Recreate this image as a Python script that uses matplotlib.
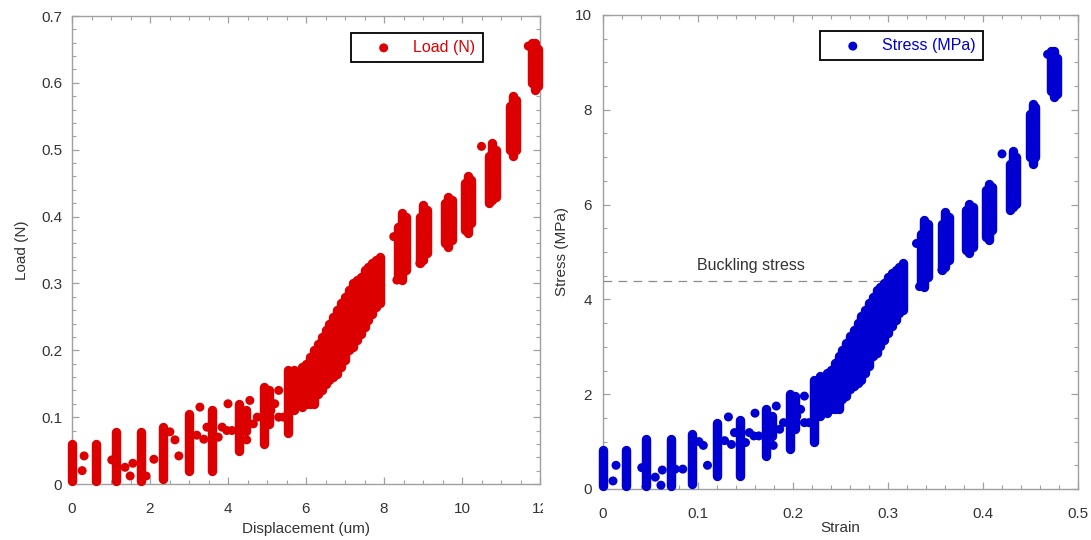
import matplotlib
matplotlib.use("Agg")
import matplotlib.pyplot as plt
from matplotlib.ticker import MultipleLocator
from matplotlib.transforms import Bbox

plt.rcParams['font.family'] = ['Liberation Sans', 'DejaVu Sans']

# ---------------- Left panel: Load vs Displacement ----------------
# vertical runs of overlapping points (x, lowest y, highest y)
load_streak_x = [0.00, 0.61, 1.13, 1.78, 2.34, 3.00, 3.60, 4.28, 4.45, 4.93, 5.05, 5.55, 5.70,
                 5.90, 6.00, 6.10, 6.20, 6.30, 6.40, 6.50, 6.60, 6.70, 6.80, 6.90, 7.00, 7.10,
                 7.20, 7.30, 7.40, 7.50, 7.60, 7.70, 7.80, 7.90,
                 8.36, 8.46, 8.56, 8.92, 9.00, 9.10, 9.56, 9.64, 9.74, 10.08, 10.16, 10.24,
                 10.70, 10.78, 10.86, 11.24, 11.31, 11.38, 11.80, 11.87, 11.94]
load_streak_lo = [0.005, 0.005, 0.005, 0.005, 0.008, 0.020, 0.020, 0.050, 0.080, 0.060, 0.090, 0.076, 0.110,
                  0.115, 0.120, 0.120, 0.120, 0.135, 0.140, 0.150, 0.155, 0.160, 0.165, 0.175, 0.185, 0.200,
                  0.205, 0.215, 0.225, 0.235, 0.245, 0.255, 0.265, 0.270,
                  0.310, 0.305, 0.320, 0.330, 0.335, 0.345, 0.360, 0.355, 0.365, 0.380, 0.375, 0.390,
                  0.420, 0.425, 0.430, 0.500, 0.490, 0.500, 0.600, 0.590, 0.595]
load_streak_hi = [0.060, 0.060, 0.078, 0.078, 0.085, 0.105, 0.110, 0.120, 0.110, 0.145, 0.140, 0.170, 0.170,
                  0.175, 0.180, 0.190, 0.200, 0.210, 0.220, 0.230, 0.240, 0.250, 0.260, 0.270, 0.280, 0.290,
                  0.300, 0.305, 0.310, 0.320, 0.325, 0.330, 0.335, 0.340,
                  0.385, 0.405, 0.400, 0.400, 0.417, 0.410, 0.420, 0.430, 0.425, 0.450, 0.460, 0.455,
                  0.490, 0.510, 0.500, 0.565, 0.580, 0.575, 0.660, 0.660, 0.650]
# single scattered points
load_dot_x = [0.31, 0.26, 1.02, 1.36, 1.49, 1.56, 1.90, 2.10, 2.51, 2.64, 2.74, 3.20, 3.28, 3.38, 3.46,
              3.75, 3.85, 3.97, 4.00, 4.10, 4.48, 4.56, 4.65, 4.75, 5.10, 5.20, 5.30, 5.30, 5.42, 5.80,
              6.87, 8.25, 8.33, 8.92, 10.50, 11.70]
load_dot_y = [0.042, 0.020, 0.036, 0.025, 0.012, 0.031, 0.012, 0.037, 0.078, 0.066, 0.042, 0.073, 0.115, 0.067, 0.085,
              0.070, 0.085, 0.080, 0.120, 0.080, 0.066, 0.125, 0.090, 0.100, 0.110, 0.120, 0.100, 0.140, 0.100, 0.155,
              0.175, 0.370, 0.305, 0.330, 0.505, 0.655]

# ---------------- Right panel: Stress vs Strain ----------------
stress_streak_x = [0.000, 0.0244, 0.0452, 0.0712, 0.0936, 0.120, 0.144, 0.1712, 0.178, 0.1972, 0.202, 0.222, 0.228,
                   0.236, 0.240, 0.244, 0.248, 0.252, 0.256, 0.260, 0.264, 0.268, 0.272, 0.276, 0.280, 0.284,
                   0.288, 0.292, 0.296, 0.300, 0.304, 0.308, 0.312, 0.316,
                   0.3344, 0.3384, 0.3424, 0.3568, 0.360, 0.364, 0.3824, 0.3856, 0.3896, 0.4032, 0.4064, 0.4096,
                   0.428, 0.4312, 0.4344, 0.4496, 0.4524, 0.4552, 0.472, 0.4748, 0.4776]
stress_streak_lo = [0.07, 0.07, 0.07, 0.07, 0.10, 0.28, 0.28, 0.70, 1.12, 0.84, 1.26, 1.00, 1.54,
                    1.61, 1.68, 1.68, 1.68, 1.89, 1.96, 2.10, 2.17, 2.24, 2.31, 2.45, 2.59, 2.80,
                    2.87, 3.01, 3.15, 3.29, 3.43, 3.57, 3.71, 3.78,
                    4.34, 4.27, 4.48, 4.62, 4.69, 4.83, 5.04, 4.97, 5.11, 5.32, 5.25, 5.46,
                    5.88, 5.95, 6.02, 7.00, 6.86, 7.00, 8.40, 8.26, 8.33]
stress_streak_hi = [0.82, 0.82, 1.05, 1.05, 1.15, 1.40, 1.45, 1.68, 1.54, 2.00, 1.96, 2.30, 2.38,
                    2.45, 2.52, 2.66, 2.80, 2.94, 3.08, 3.22, 3.36, 3.50, 3.64, 3.78, 3.92, 4.06,
                    4.20, 4.27, 4.34, 4.48, 4.55, 4.62, 4.69, 4.76,
                    5.39, 5.67, 5.60, 5.60, 5.84, 5.74, 5.88, 6.02, 5.95, 6.30, 6.44, 6.37,
                    6.86, 7.14, 7.00, 7.91, 8.12, 8.05, 9.24, 9.24, 9.10]
stress_dot_x = [0.0137, 0.0105, 0.0408, 0.055, 0.061, 0.0624, 0.076, 0.084, 0.101, 0.1056, 0.110, 0.128, 0.132, 0.1352, 0.1384,
                0.150, 0.154, 0.1588, 0.160, 0.164, 0.1792, 0.1824, 0.186, 0.190, 0.204, 0.208, 0.212, 0.212, 0.2168, 0.232,
                0.2748, 0.330, 0.3332, 0.3568, 0.420, 0.468]
stress_dot_y = [0.50, 0.17, 0.45, 0.25, 0.08, 0.40, 0.42, 0.42, 1.00, 0.92, 0.50, 1.02, 1.52, 0.94, 1.19,
                0.98, 1.19, 1.12, 1.60, 1.12, 0.92, 1.75, 1.26, 1.40, 1.54, 1.68, 1.40, 1.96, 1.40, 2.17,
                2.45, 5.18, 4.27, 4.62, 7.07, 9.17]

buckling_stress = 4.39
buckling_strain_end = 0.295

RED = '#DC0000'
BLUE = '#0000D2'
SPINE = '#A0A0A0'
TXT = '#333333'

TICK_FS = 11
LABEL_FS = 11
LEG_FS = 11.5

W, H = 1091, 540
fig = plt.figure(figsize=(W / 100, H / 100), dpi=100)
ax1 = fig.add_axes([72 / W, (H - 484) / H, 468 / W, 468 / H])
ax2 = fig.add_axes([603 / W, (H - 489) / H, 475 / W, 474 / H])

STREAK_LW = 6.8
DOT_S = 42


def draw(ax, sx, slo, shi, dx, dy, color, label):
    lc = ax.vlines(sx, slo, shi, colors=color, linewidth=STREAK_LW, capstyle='round', zorder=3)
    lc.set_clip_on(False)
    sc = ax.scatter(dx, dy, s=DOT_S, color=color, edgecolors='none', zorder=3, label=label)
    sc.set_clip_on(False)


def style(ax):
    for sp in ax.spines.values():
        sp.set_color(SPINE)
        sp.set_linewidth(1.0)
        sp.set_zorder(1)
    ax.tick_params(which='both', direction='in', top=True, right=True, colors=SPINE,
                   labelcolor=TXT, labelsize=TICK_FS)
    ax.tick_params(which='major', length=5, width=0.9)
    ax.tick_params(which='minor', length=3, width=0.8)
    ax.tick_params(axis='x', which='major', pad=13)


def legend(ax, color, anchor):
    leg = ax.legend(loc='upper left', bbox_to_anchor=anchor, borderaxespad=0, fontsize=LEG_FS,
                    frameon=True, fancybox=False, framealpha=1, edgecolor='black',
                    handlelength=3.2, handletextpad=0.25, borderpad=0.45, markerscale=1.0)
    leg.get_frame().set_linewidth(1.3)
    leg.set_zorder(5)
    for t in leg.get_texts():
        t.set_color(color)


# Left
draw(ax1, load_streak_x, load_streak_lo, load_streak_hi, load_dot_x, load_dot_y, RED, 'Load (N)')
ax1.set_xlim(0, 12)
ax1.set_ylim(0, 0.7)
ax1.set_xticks([0, 2, 4, 6, 8, 10, 12])
ax1.set_xticklabels(['0', '2', '4', '6', '8', '10', '12'])
ax1.set_yticks([0, 0.1, 0.2, 0.3, 0.4, 0.5, 0.6, 0.7])
ax1.set_yticklabels(['0', '0.1', '0.2', '0.3', '0.4', '0.5', '0.6', '0.7'])
ax1.xaxis.set_minor_locator(MultipleLocator(0.5))
ax1.yaxis.set_minor_locator(MultipleLocator(0.02))
style(ax1)
ax1.tick_params(axis='y', which='major', pad=7)
ax1.set_xlabel('Displacement (um)', fontsize=LABEL_FS, color=TXT, labelpad=4)
ax1.set_ylabel('Load (N)', fontsize=LABEL_FS, color=TXT, labelpad=9)
legend(ax1, RED, (0.596, 0.964))

# Right
draw(ax2, stress_streak_x, stress_streak_lo, stress_streak_hi, stress_dot_x, stress_dot_y, BLUE, 'Stress (MPa)')
ax2.plot([0, buckling_strain_end], [buckling_stress, buckling_stress], color='#8C8C8C',
         linewidth=0.9, dashes=(7, 5), zorder=2)
ax2.text(0.099, 4.72, 'Buckling stress', fontsize=11.5, color=TXT, ha='left', va='center')
ax2.set_xlim(0, 0.5)
ax2.set_ylim(0, 10)
ax2.set_xticks([0, 0.1, 0.2, 0.3, 0.4, 0.5])
ax2.set_xticklabels(['0', '0.1', '0.2', '0.3', '0.4', '0.5'])
ax2.set_yticks([0, 2, 4, 6, 8, 10])
ax2.set_yticklabels(['0', '2', '4', '6', '8', '10'])
ax2.xaxis.set_minor_locator(MultipleLocator(0.02))
ax2.yaxis.set_minor_locator(MultipleLocator(0.5))
style(ax2)
ax2.tick_params(axis='y', which='major', pad=8)
ax2.set_xlabel('Strain', fontsize=LABEL_FS, color=TXT, labelpad=0)
ax2.set_ylabel('Stress (MPa)', fontsize=LABEL_FS, color=TXT, labelpad=4)
legend(ax2, BLUE, (0.457, 0.966))

# the last left tick label is cut off in the reference
clip = Bbox.from_extents(0, 0, 543, H)
for t in ax1.get_xticklabels():
    t.set_clip_box(clip)
    t.set_clip_on(True)

fig.savefig('out.png', dpi=100, facecolor='white')
